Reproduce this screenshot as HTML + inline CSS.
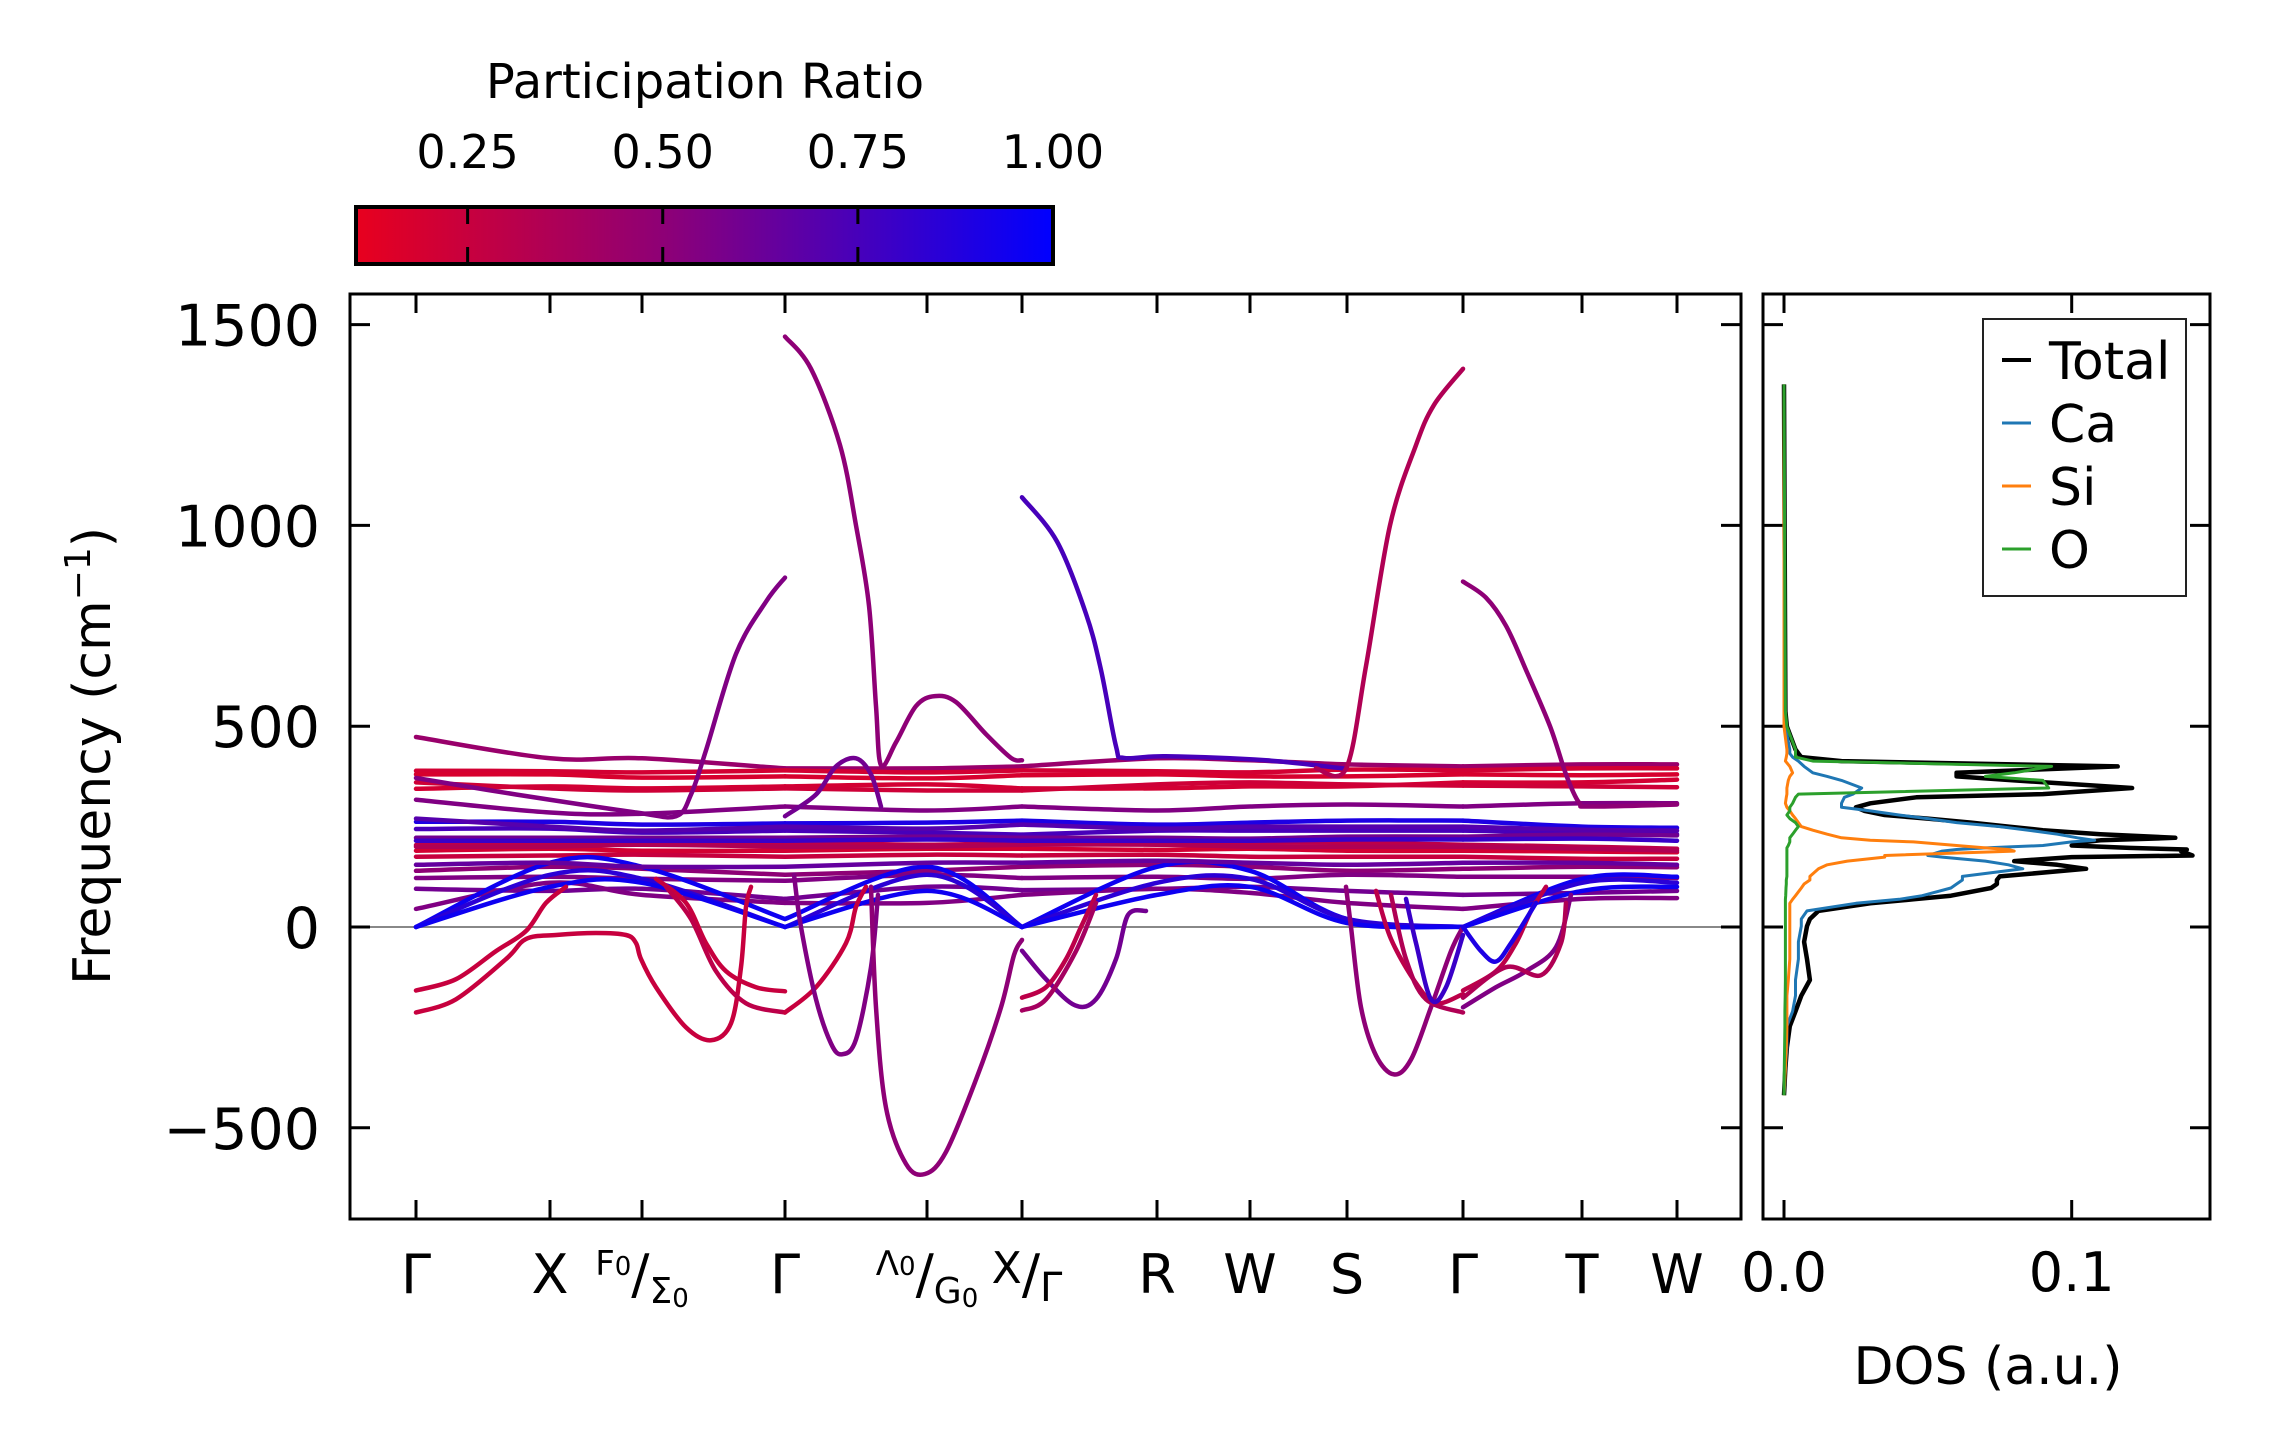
<!DOCTYPE html>
<html><head><meta charset="utf-8">
<style>
html,body{margin:0;padding:0;background:#fff;}
svg{display:block;font-family:"DejaVu Sans","Liberation Sans",sans-serif;}
</style></head>
<body>
<svg id="fig" width="2271" height="1455" viewBox="0 0 2271 1455" xmlns="http://www.w3.org/2000/svg">
<defs>
<linearGradient id="cbgrad" x1="0" x2="1" y1="0" y2="0">
<stop offset="0" stop-color="#e8001e"/>
<stop offset="0.45" stop-color="#8c0078"/>
<stop offset="1" stop-color="#0000ff"/>
</linearGradient>
<clipPath id="mainclip"><rect x="350" y="294" width="1391" height="925"/></clipPath>
<clipPath id="dosclip"><rect x="1763" y="294" width="447" height="925"/></clipPath>
</defs>
<g>
<text x="705" y="98" font-size="48" text-anchor="middle">Participation Ratio</text>
<rect x="356" y="207" width="697" height="57" fill="url(#cbgrad)" stroke="#000" stroke-width="4"/>
<g id="cbticks"></g>
</g>
<g id="main">
<line x1="350" x2="1741" y1="927" y2="927" stroke="#888" stroke-width="2"/>
<g id="bands" clip-path="url(#mainclip)"></g>
<rect x="350" y="294" width="1391" height="925" fill="none" stroke="#000" stroke-width="3"/>
<g id="mainticks"></g>
<text transform="translate(110,756) rotate(-90)" font-size="52" text-anchor="middle">Frequency (cm<tspan dy="-20" font-size="36">−1</tspan><tspan dy="20">)</tspan></text>
</g>
<g id="dos">
<g id="doslines" clip-path="url(#dosclip)"></g>
<rect x="1763" y="294" width="447" height="925" fill="none" stroke="#000" stroke-width="3"/>
<g id="dosticks"></g>
<text x="1988" y="1384" font-size="52" text-anchor="middle">DOS (a.u.)</text>
<g>
<rect x="1983" y="319" width="203" height="277" fill="#fff" stroke="#222" stroke-width="2"/>
<g id="legendentries"></g>
</g>
</g>
</svg>
<script>
const NS="http://www.w3.org/2000/svg";
// ---- data ----
const kTicks=[0,134,226,369,511,606,741,834,931,1047,1166,1261];
const kLabels=["Γ","X","F0/Σ0","Γ","Λ0/G0","X/Γ","R","W","S","Γ","T","W"];
const sections=[[0,3],[3,5],[5,9],[9,11]];
const yTicks=[-500,0,500,1000,1500];
const cbTicks=[0.25,0.5,0.75,1.0];
const cbLabels=["0.25","0.50","0.75","1.00"];
const flatPR=[0.45,0.2,0.18,0.2,0.22,0.55,0.9,0.75,0.6,0.3,0.2,0.25,0.5,0.55,0.6,0.55,0.95,0.85,0.95,0.7,0.35,0.65,0.8];
const flatF=[
[473,420,420,395,395,400,420,415,405,400,405,405],
[389,388,385,390,385,390,388,385,392,390,395,395],
[380,380,372,375,370,378,380,375,375,380,378,380],
[344,350,345,350,355,345,345,350,350,360,360,367],
[360,345,340,345,340,340,355,360,355,352,350,348],
[317,285,282,300,290,300,290,300,305,300,308,308],
[262,262,255,258,260,265,255,260,265,265,250,247],
[244,245,235,240,235,230,240,240,240,240,235,231],
[222,222,222,222,225,222,222,220,225,225,230,228],
[204,208,210,210,205,210,215,210,210,205,200,195],
[190,195,190,190,195,195,192,195,190,190,188,186],
[175,178,180,175,180,178,180,175,175,175,170,170],
[140,150,145,130,140,150,155,150,140,145,150,149],
[122,125,120,115,130,122,125,120,130,125,125,122],
[95,90,95,70,100,92,95,100,90,80,85,90],
[45,110,80,60,60,80,95,85,60,45,70,72],
[0,160,150,20,150,0,150,140,20,0,120,125],
[0,130,120,0,130,0,110,120,20,0,110,110],
[0,100,110,0,90,0,80,100,10,0,90,100],
[270,250,240,250,245,255,245,250,250,250,242,240],
[200,200,205,200,200,205,205,200,200,200,195,190],
[155,160,150,150,160,160,165,160,155,160,160,155],
[215,215,215,215,218,215,215,215,218,218,220,215]];
const curvePR=[0.55,0.5,0.75,0.35,0.5,0.25,0.25,0.25,0.3,0.25,0.55,0.5,0.6,0.6,0.3,0.4,0.5,0.3,0.35,0.8,0.3,0.55,0.9,0.35];
const curveK=[
[0,100,220,260,275,290,320,350,369],
[369,395,424,440,453,460,465,480,500,519,540,570,595,606],
[606,641,670,685,700,708,750,850,930],
[900,930,950,974,1000,1018,1047],
[1047,1070,1090,1110,1134,1150,1163,1175,1261],
[0,40,80,110,130,150],
[0,40,90,110,140,180,210,220,225,240,270,295,315,325,330,335],
[240,270,290,310,340,369],
[250,275,300,330,369],
[369,400,430,440,450],
[378,385,400,415,426,440,455,462],
[455,460,470,490,509,530,560,585,598,606],
[369,400,420,440,455,465],
[606,630,659,680,700,712,730],
[606,630,650,665,680],
[606,630,660,680],
[930,935,945,960,978,995,1015,1035,1047],
[960,975,1000,1020,1047],
[975,990,1010,1047],
[990,1000,1015,1030,1047],
[1047,1080,1100,1115,1130],
[1047,1080,1110,1140,1155],
[1047,1065,1080,1095,1120],
[1047,1090,1125,1145,1150]];
const curveF=[
[371,330,285,276,330,440,680,810,870],
[1470,1390,1200,1000,800,550,403,460,550,575,560,480,421,415],
[1070,960,780,640,450,421,425,415,394],
[395,394,650,1000,1200,1300,1390],
[860,820,750,640,500,380,310,300,305],
[-158,-130,-60,-10,60,100],
[-213,-180,-80,-30,-20,-15,-20,-40,-80,-150,-250,-282,-240,-100,50,100],
[120,60,-40,-110,-150,-160],
[100,20,-110,-190,-213],
[-213,-150,-40,50,100],
[130,0,-180,-290,-317,-280,-100,80],
[100,-200,-450,-590,-615,-560,-380,-200,-70,-32],
[276,330,400,420,380,300],
[-59,-130,-195,-180,-80,30,40],
[-176,-150,-80,0,80],
[-208,-180,-60,60],
[100,0,-200,-320,-367,-330,-200,-60,0],
[90,-30,-140,-190,-167],
[80,-80,-180,-213],
[70,-40,-180,-150,-20],
[-158,-110,-40,40,100],
[-200,-150,-110,-50,80],
[0,-60,-86,-40,60],
[-176,-100,-120,-40,60]];
// DOS data (frequency in cm-1, DOS a.u.)
const dosFreq=[1351,537,499,442,432,423,413,400,384,375,365,346,331,323,308,298,289,279,270,260,250,241,231,222,216,212,203,197,193,189,178,174,164,155,145,126,117,107,97,78,69,59,40,20,2,-37,-80,-132,-171,-210,-247,-300,-350,-419];
const dosTotal=[0,0.0005,0.001,0.004,0.005,0.006,0.02,0.116,0.06,0.06,0.08,0.121,0.09,0.046,0.03,0.025,0.028,0.035,0.05,0.065,0.078,0.09,0.11,0.136,0.11,0.105,0.10,0.12,0.14,0.138,0.142,0.1,0.08,0.095,0.105,0.075,0.074,0.074,0.072,0.058,0.045,0.03,0.012,0.009,0.008,0.007,0.008,0.009,0.006,0.004,0.002,0.001,0.0005,0];
const dosCa=[0,0,0.0005,0.002,0.002,0.003,0.005,0.007,0.01,0.015,0.02,0.027,0.024,0.021,0.02,0.02,0.03,0.04,0.05,0.06,0.075,0.085,0.095,0.102,0.108,0.1,0.09,0.07,0.06,0.055,0.05,0.055,0.07,0.078,0.083,0.062,0.062,0.06,0.058,0.048,0.04,0.025,0.008,0.006,0.006,0.005,0.005,0.004,0.004,0.003,0.001,0.001,0.0005,0];
const dosSi=[0,0,0,0.001,0.001,0.0008,0.0005,0.002,0.003,0.002,0.0015,0.001,0.001,0.0008,0.0005,0.001,0.002,0.003,0.004,0.005,0.006,0.01,0.015,0.02,0.03,0.045,0.06,0.07,0.078,0.08,0.035,0.035,0.022,0.015,0.012,0.009,0.009,0.007,0.006,0.004,0.003,0.002,0.002,0.002,0.002,0.002,0.002,0.0015,0.001,0.001,0.001,0.0008,0.0005,0];
const dosO=[0,0.0005,0.001,0.004,0.004,0.004,0.01,0.093,0.08,0.07,0.09,0.092,0.005,0.004,0.003,0.002,0.002,0.001,0.002,0.004,0.005,0.004,0.003,0.002,0.002,0.002,0.0015,0.001,0.001,0.001,0.001,0.001,0.001,0.001,0.001,0.001,0.0008,0.0008,0.0007,0.0006,0.0005,0.0005,0.0005,0.0005,0.0005,0.0005,0.0005,0.0005,0.0004,0.0003,0.0003,0.0002,0.0001,0];
const dosXTicks=[0,0.1];
const dosXLabels=["0.0","0.1"];
// ---- axes ----
function xK(k){return 416+k;}
function yF(f){return 927-f*0.4016;}
function xD(v){return 1784+v*2877;}
function xCB(p){return 356+(p-0.107)/(1-0.107)*697;}
function prColor(p){
  let t=Math.max(0,Math.min(1,(p-0.107)/0.893));
  const a=[232,0,30],m=[140,0,120],b=[0,0,255];let c;
  if(t<0.45){const u=t/0.45;c=a.map((v,i)=>v+(m[i]-v)*u);}else{const u=(t-0.45)/0.55;c=m.map((v,i)=>v+(b[i]-v)*u);}
  return "rgb("+c.map(Math.round).join(",")+")";
}
function mk(tag,attrs,parent){const e=document.createElementNS(NS,tag);for(const k in attrs)e.setAttribute(k,attrs[k]);parent.appendChild(e);return e;}
function smoothPath(pts){
  let d="M"+pts[0][0].toFixed(1)+","+pts[0][1].toFixed(1);
  for(let i=0;i<pts.length-1;i++){
    const p0=pts[i-1]||pts[i],p1=pts[i],p2=pts[i+1],p3=pts[i+2]||p2;
    const c1=[p1[0]+(p2[0]-p0[0])/6,p1[1]+(p2[1]-p0[1])/6];
    const c2=[p2[0]-(p3[0]-p1[0])/6,p2[1]-(p3[1]-p1[1])/6];
    d+="C"+c1[0].toFixed(1)+","+c1[1].toFixed(1)+" "+c2[0].toFixed(1)+","+c2[1].toFixed(1)+" "+p2[0].toFixed(1)+","+p2[1].toFixed(1);
  }
  return d;
}
// colorbar ticks
const cbg=document.getElementById('cbticks');
cbTicks.forEach((p,i)=>{
  const x=xCB(p);
  if(p<1){
  const l1=mk('line',{x1:x,x2:x,y1:209,y2:224,stroke:'#000','stroke-width':3},cbg);
  
  
  const l2=mk('line',{x1:x,x2:x,y1:247,y2:262,stroke:'#000','stroke-width':3},cbg);
  
  }
  const t=mk('text',{x:x,y:168,'font-size':46,'text-anchor':'middle'},cbg);t.textContent=cbLabels[i];
  
  
});
// bands
const bg=document.getElementById('bands');
flatF.forEach((row,bi)=>{
  sections.forEach(s=>{
    const pts=[];for(let i=s[0];i<=s[1];i++)pts.push([xK(kTicks[i]),yF(row[i])]);
    const p=mk('path',{d:smoothPath(pts),fill:'none',stroke:prColor(flatPR[bi]),'stroke-width':4.5,'stroke-linecap':'round'},bg);
    
    
  });
});
curveK.forEach((ks,ci)=>{
  const pts=ks.map((k,i)=>[xK(k),yF(curveF[ci][i])]);
  const p=mk('path',{d:smoothPath(pts),fill:'none',stroke:prColor(curvePR[ci]),'stroke-width':4.5,'stroke-linecap':'round'},bg);
  
  
});
// main ticks
const mt=document.getElementById('mainticks');
kTicks.forEach((k,i)=>{
  const x=xK(k);
  const a=mk('line',{x1:x,x2:x,y1:294,y2:313,stroke:'#000','stroke-width':3},mt);
  
  
  const b=mk('line',{x1:x,x2:x,y1:1200,y2:1219,stroke:'#000','stroke-width':3},mt);
  
  
  const t=mk('text',{x:x,y:1293,'font-size':54,'text-anchor':'middle'},mt);
  const lab=kLabels[i];
  if(lab.indexOf('/')>0){
    const parts=lab.split('/');
    const sup=parts[0],sub=parts[1];
    if(sub==='Γ'){t.innerHTML='<tspan font-size="44" dy="-10">'+sup+'</tspan><tspan dy="10">/</tspan><tspan font-size="40" dy="8">Γ</tspan>';t.setAttribute('x',x+5);}
    else{t.innerHTML='<tspan font-size="34" dy="-18">'+sup[0]+'</tspan><tspan font-size="26" dy="0">'+sup[1]+'</tspan><tspan dy="18">/</tspan><tspan font-size="36" dy="10">'+sub[0]+'</tspan><tspan font-size="26" dy="4">'+sub[1]+'</tspan>';}
  } else t.textContent=lab;
  
  
});
yTicks.forEach(v=>{
  const y=yF(v);
  const a=mk('line',{x1:350,x2:370,y1:y,y2:y,stroke:'#000','stroke-width':3},mt);
  
  
  const b=mk('line',{x1:1721,x2:1741,y1:y,y2:y,stroke:'#000','stroke-width':3},mt);
  
  
  const t=mk('text',{x:320,y:y+21,'font-size':57,'text-anchor':'end'},mt);
  t.textContent=(v<0?'−':'')+Math.abs(v);
  
  
  const c=mk('line',{x1:1763,x2:1783,y1:y,y2:y,stroke:'#000','stroke-width':3},mt);
  
  
  const d=mk('line',{x1:2190,x2:2210,y1:y,y2:y,stroke:'#000','stroke-width':3},mt);
  
  
});
// DOS
const dl=document.getElementById('doslines');
const series=[[dosTotal,'#000',4.5,'dos-total-line'],[dosCa,'#1f77b4',3,'dos-ca-line'],[dosSi,'#ff7f0e',3,'dos-si-line'],[dosO,'#2ca02c',3,'dos-o-line']];
series.forEach(s=>{
  const pts=dosFreq.map((f,i)=>xD(s[0][i]).toFixed(1)+','+yF(f).toFixed(1)).join(' ');
  const p=mk('polyline',{points:pts,fill:'none',stroke:s[1],'stroke-width':s[2],'stroke-linejoin':'round'},dl);
  
  
});
const dt=document.getElementById('dosticks');
dosXTicks.forEach((v,i)=>{
  const x=xD(v);
  const a=mk('line',{x1:x,x2:x,y1:294,y2:313,stroke:'#000','stroke-width':3},dt);
  
  
  const b=mk('line',{x1:x,x2:x,y1:1200,y2:1219,stroke:'#000','stroke-width':3},dt);
  
  
  const t=mk('text',{x:x,y:1291,'font-size':54,'text-anchor':'middle'},dt);
  t.textContent=dosXLabels[i];
  
  
});
const le=document.getElementById('legendentries');
const legNames=['Total','Ca','Si','O'],legCols=['#000','#1f77b4','#ff7f0e','#2ca02c'];
legNames.forEach((n,i)=>{
  const y=360+i*63;
  const l=mk('line',{x1:2002,x2:2031,y1:y,y2:y,stroke:legCols[i],'stroke-width':i===0?4:3},le);
  
  
  const t=mk('text',{x:2049,y:y+19,'font-size':52},le);
  t.textContent=n;
  
  
});
</script>
</body></html>
